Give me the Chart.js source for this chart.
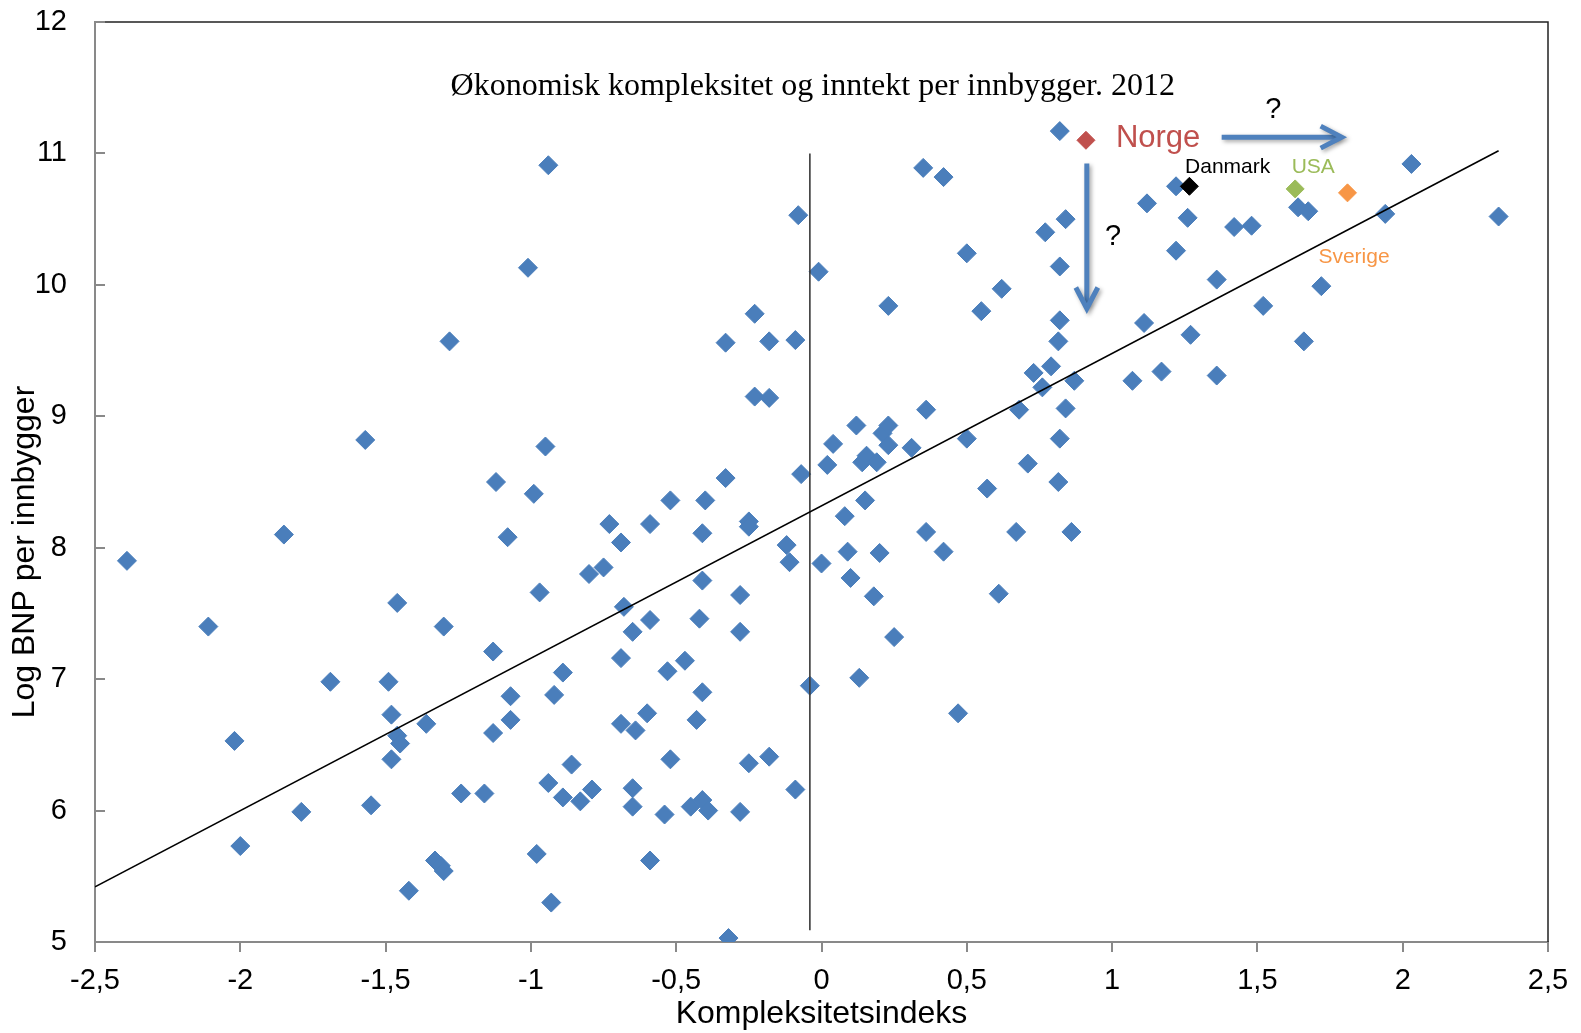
<!DOCTYPE html>
<html><head><meta charset="utf-8">
<script src="https://cdn.jsdelivr.net/npm/chart.js@4.4.1/dist/chart.umd.min.js"></script>
<style>html,body{margin:0;padding:0;background:#fff;overflow:hidden}canvas{display:block}</style>
</head><body>
<canvas id="c" width="1581" height="1033"></canvas>
<script>
// ---- data ----
const countryX = [-2.39,-2.11,-2.02,-2.00,-1.85,-1.79,-1.69,-1.57,-1.55,-1.49,-1.48,-1.46,-1.48,-1.46,-1.45,-1.42,-1.36,-1.33,-1.31,-1.30,-1.30,-1.28,-1.24,-1.16,-1.13,-1.13,-1.12,-1.08,-1.07,-1.07,
  -1.01,-0.99,-0.98,-0.97,-0.95,-0.94,-0.94,-0.93,-0.92,-0.89,-0.89,-0.86,-0.83,-0.80,-0.79,-0.75,-0.73,-0.69,-0.69,-0.69,-0.68,-0.65,-0.65,-0.65,-0.64,-0.60,-0.59,-0.59,-0.59,-0.53,
  -0.54,-0.52,-0.52,-0.47,-0.45,-0.43,-0.42,-0.41,-0.41,-0.41,-0.41,-0.40,-0.39,-0.33,-0.33,-0.32,-0.28,-0.28,-0.28,-0.25,-0.25,-0.25,-0.23,-0.23,-0.18,-0.18,-0.18,-0.12,-0.11,-0.09,
  -0.09,-0.08,-0.07,-0.04,-0.01,0.00,0.02,0.04,0.08,0.09,0.10,0.12,0.13,0.14,0.15,0.155,0.18,0.19,0.20,0.21,0.23,0.23,0.23,0.25,0.31,0.35,0.36,0.36,0.42,0.42,
  0.47,0.50,0.50,0.55,0.57,0.61,0.62,0.67,0.68,0.71,0.73,0.76,0.77,0.79,0.82,0.82,0.82,0.815,0.82,0.815,0.84,0.84,0.86,0.87,1.07,1.11,1.12,1.17,1.22,1.22,
  1.26,1.27,1.36,1.36,1.42,1.48,1.52,1.64,1.675,1.66,1.72,1.94,2.03,2.33];
const countryY = [7.90,7.40,6.53,5.73,8.10,5.99,6.98,8.82,6.04,6.98,6.73,7.58,6.39,6.57,6.51,5.39,6.66,5.62,5.58,5.54,7.40,9.57,6.13,6.13,7.21,6.59,8.50,8.08,6.87,6.69,
  10.13,8.41,5.67,7.66,8.77,10.91,6.21,5.30,6.88,6.10,7.05,6.35,6.07,7.80,6.16,7.85,8.18,8.04,7.16,6.66,7.55,6.17,6.03,7.36,6.61,6.74,5.62,8.18,7.45,7.06,
  5.97,8.36,6.39,7.14,6.03,6.69,7.46,6.08,6.90,8.11,7.75,8.36,6.00,9.56,8.53,5.03,7.64,7.36,5.99,6.36,8.20,8.16,9.78,9.15,6.41,9.57,9.14,8.02,7.89,9.58,
  6.16,10.53,8.56,6.95,10.10,7.88,8.63,8.79,8.24,7.97,7.77,8.93,7.01,8.65,8.36,8.70,7.63,8.65,7.96,8.87,8.93,9.84,8.78,7.32,8.76,10.89,8.12,9.05,10.82,7.97,
  6.74,10.24,8.83,9.80,8.45,7.65,9.97,8.12,9.05,8.64,9.33,9.22,10.40,9.38,11.17,10.14,9.73,9.57,8.83,8.50,10.50,9.06,8.12,9.27,9.27,9.71,10.62,9.34,10.75,10.26,
  10.51,9.62,10.04,9.31,10.44,10.45,9.84,10.59,10.56,9.57,9.99,10.54,10.92,10.52];
const norgeX = [0.91],   norgeY = [11.10];
const danmarkX = [1.266], danmarkY = [10.75];
const usaX = [1.63],     usaY = [10.73];
const sverigeX = [1.81], sverigeY = [10.70];
const trendX = [-2.5, 2.33], trendY = [5.42, 11.02];
const zeroLineX = [-0.04, -0.04], zeroLineY = [5.09, 11.0];
const xTickValues = [-2.5,-2,-1.5,-1,-0.5,0,0.5,1,1.5,2,2.5];
const xTickLabels = ['-2,5','-2','-1,5','-1','-0,5','0','0,5','1','1,5','2','2,5'];
const yTickValues = [5,6,7,8,9,10,11,12];
const yTickLabels = ['5','6','7','8','9','10','11','12'];
const chartTitle = 'Økonomisk kompleksitet og inntekt per innbygger. 2012';
const xAxisTitle = 'Kompleksitetsindeks';
const yAxisTitle = 'Log BNP per innbygger';
const countryLabels = ['Norge','Danmark','USA','Sverige'];

// ---- helpers ----
const pts = (xs, ys) => xs.map((x, i) => ({x: x, y: ys[i]}));
const SANS = "'Liberation Sans', Arial, sans-serif";
const SERIF = "'Liberation Serif', 'Times New Roman', serif";
const AXIS_GRAY = '#898989';

// annotation anchors in data units
const notes = [
  {text: chartTitle, x: -0.03, y: 11.444, font: '32px ' + SERIF, color: '#000', align: 'center'},
  {text: countryLabels[0], x: 1.013, y: 11.05, font: '31px ' + SANS, color: '#c0504d', align: 'left'},
  {text: countryLabels[1], x: 1.251, y: 10.852, font: '21px ' + SANS, color: '#000', align: 'left'},
  {text: countryLabels[2], x: 1.618, y: 10.854, font: '21px ' + SANS, color: '#9bbb59', align: 'left'},
  {text: countryLabels[3], x: 1.71, y: 10.165, font: '21px ' + SANS, color: '#f79646', align: 'left'},
  {text: '?', x: 1.555, y: 11.266, font: '29px ' + SANS, color: '#000', align: 'center'},
  {text: '?', x: 1.003, y: 10.307, font: '29px ' + SANS, color: '#000', align: 'center'}
];
const arrows = [
  {x1: 1.377, y1: 11.124, x2: 1.79, y2: 11.124},
  {x1: 0.913, y1: 10.924, x2: 0.913, y2: 9.82}
];

const overlay = {
  id: 'overlay',
  beforeDatasetsDraw(chart) {
    const {ctx, chartArea: a, scales: {y}} = chart;
    ctx.save();
    ctx.strokeStyle = '#222';
    ctx.lineWidth = 1.5;
    ctx.beginPath();
    ctx.moveTo(a.left, a.top);
    ctx.lineTo(a.right, a.top);
    ctx.lineTo(a.right, a.bottom);
    ctx.stroke();
    ctx.strokeStyle = AXIS_GRAY;
    ctx.lineWidth = 2;
    yTickValues.forEach(v => {
      const py = Math.round(y.getPixelForValue(v));
      ctx.beginPath();
      ctx.moveTo(a.left, py);
      ctx.lineTo(a.left + 10, py);
      ctx.stroke();
    });
    ctx.restore();
  },
  afterDatasetsDraw(chart) {
    const {ctx, chartArea: a, scales: {x, y}} = chart;
    ctx.save();
    ctx.strokeStyle = '#4f81bd';
    ctx.lineWidth = 5;
    ctx.shadowColor = 'rgba(0,0,0,0.35)';
    ctx.shadowBlur = 4;
    ctx.shadowOffsetX = 2;
    ctx.shadowOffsetY = 2;
    arrows.forEach(ar => {
      const X1 = x.getPixelForValue(ar.x1), Y1 = y.getPixelForValue(ar.y1);
      const X2 = x.getPixelForValue(ar.x2), Y2 = y.getPixelForValue(ar.y2);
      const ang = Math.atan2(Y2 - Y1, X2 - X1);
      const back = 21, half = 11;
      ctx.beginPath();
      ctx.moveTo(X1, Y1);
      ctx.lineTo(X2 - Math.cos(ang) * 3, Y2 - Math.sin(ang) * 3);
      ctx.stroke();
      const bx = X2 - Math.cos(ang) * back, by = Y2 - Math.sin(ang) * back;
      ctx.beginPath();
      ctx.lineJoin = 'miter';
      ctx.moveTo(bx - Math.sin(ang) * half, by + Math.cos(ang) * half);
      ctx.lineTo(X2, Y2);
      ctx.lineTo(bx + Math.sin(ang) * half, by - Math.cos(ang) * half);
      ctx.stroke();
    });
    ctx.shadowColor = 'transparent';
    ctx.textBaseline = 'alphabetic';
    notes.forEach(n => {
      ctx.font = n.font;
      ctx.fillStyle = n.color;
      ctx.textAlign = n.align;
      ctx.fillText(n.text, x.getPixelForValue(n.x), y.getPixelForValue(n.y));
    });
    // y axis title (sits below the vertical centre of the plot, as in the original)
    ctx.translate(25.5, (a.top + a.bottom) / 2 + 70);
    ctx.rotate(-Math.PI / 2);
    ctx.font = '32px ' + SANS;
    ctx.fillStyle = '#000';
    ctx.textAlign = 'center';
    ctx.textBaseline = 'middle';
    ctx.fillText(yAxisTitle, 0, 0);
    ctx.restore();
  }
};

new Chart(document.getElementById('c'), {
  type: 'scatter',
  data: {
    datasets: [
      {type: 'line', data: pts(trendX, trendY), borderColor: '#000', borderWidth: 1.6, pointRadius: 0, fill: false, order: 0},
      {type: 'line', data: pts(zeroLineX, zeroLineY), borderColor: '#3a3a3a', borderWidth: 1.6, pointRadius: 0, fill: false, order: 0},
      {data: pts(norgeX, norgeY), pointStyle: 'rectRot', pointRadius: 9, backgroundColor: '#c0504d', borderColor: '#c0504d', borderWidth: 1, order: 1},
      {data: pts(danmarkX, danmarkY), pointStyle: 'rectRot', pointRadius: 9, backgroundColor: '#000', borderColor: '#000', borderWidth: 1, order: 1},
      {data: pts(usaX, usaY), pointStyle: 'rectRot', pointRadius: 9, backgroundColor: '#9bbb59', borderColor: '#9bbb59', borderWidth: 1, order: 1},
      {data: pts(sverigeX, sverigeY), pointStyle: 'rectRot', pointRadius: 9, backgroundColor: '#f79646', borderColor: '#f79646', borderWidth: 1, order: 1},
      {data: pts(countryX, countryY), pointStyle: 'rectRot', pointRadius: 9.5, backgroundColor: '#4a7ebb', borderColor: '#4a7ebb', borderWidth: 1, order: 2}
    ]
  },
  options: {
    responsive: false,
    animation: false,
    devicePixelRatio: 1,
    layout: {padding: {top: 22, right: 33, left: 0, bottom: 0}},
    plugins: {legend: {display: false}, tooltip: {enabled: false}, title: {display: false}},
    scales: {
      x: {
        type: 'linear', min: -2.5, max: 2.5,
        afterBuildTicks: s => { s.ticks = xTickValues.map(v => ({value: v})); },
        afterFit: s => { s.height = 91; s.paddingLeft = 0; s.paddingRight = 0; },
        grid: {display: true, drawOnChartArea: false, drawTicks: true, tickLength: 10, color: AXIS_GRAY, lineWidth: 2},
        border: {display: true, color: AXIS_GRAY, width: 2},
        ticks: {
          padding: 12, color: '#000', maxRotation: 0, autoSkip: false,
          font: {family: SANS, size: 29},
          callback: (v) => { const i = xTickValues.indexOf(v); return i >= 0 ? xTickLabels[i] : ''; }
        },
        title: {display: true, text: xAxisTitle, color: '#000', font: {family: SANS, size: 32}, padding: {top: 0, bottom: 0}}
      },
      y: {
        type: 'linear', min: 5, max: 12,
        afterBuildTicks: s => { s.ticks = yTickValues.map(v => ({value: v})); },
        afterFit: s => { s.width = 95; s.paddingTop = 0; s.paddingBottom = 0; },
        grid: {display: false, drawTicks: false},
        border: {display: true, color: AXIS_GRAY, width: 2},
        ticks: {
          padding: 28, color: '#000', autoSkip: false,
          font: {family: SANS, size: 29},
          callback: (v) => { const i = yTickValues.indexOf(v); return i >= 0 ? yTickLabels[i] : ''; }
        },
        title: {display: false}
      }
    }
  },
  plugins: [overlay]
});
</script>
</body></html>
